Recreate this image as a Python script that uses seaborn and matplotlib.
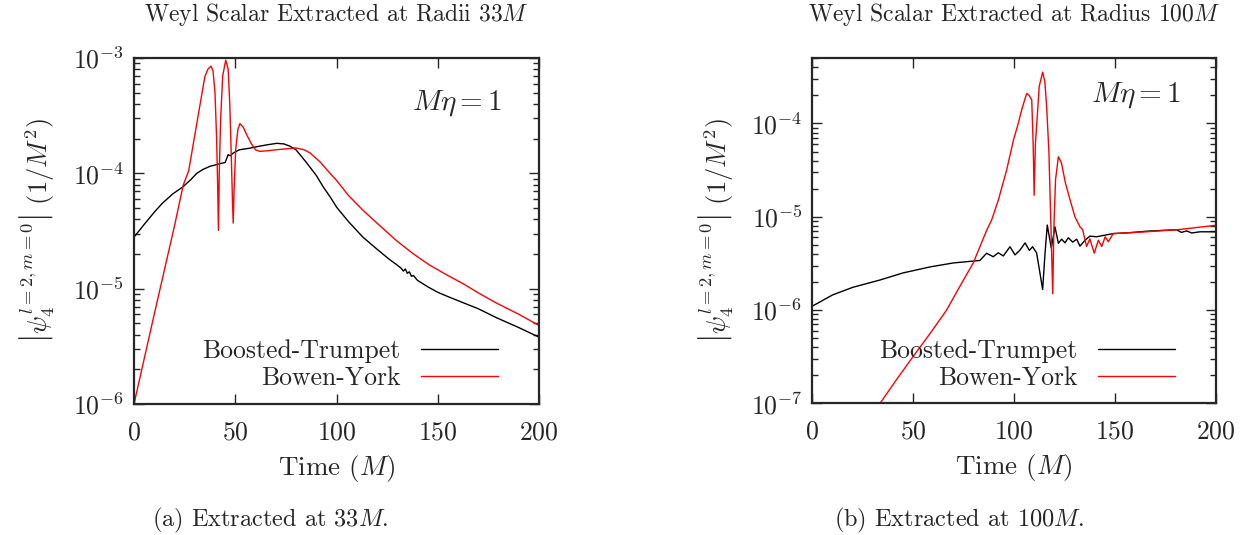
import numpy as np
import pandas as pd
import matplotlib
matplotlib.use("Agg")
import matplotlib.pyplot as plt
import matplotlib.ticker as mticker
import seaborn as sns

# ---------------- data ----------------
left_bt_t = [0, 5, 10, 14, 19, 24, 28, 31, 34, 37.5, 40, 43, 45, 46.5, 47.5, 49, 52, 57, 62, 66,
             70.5, 74, 77, 80, 85, 90, 93.5, 97, 100, 106, 113, 120, 126, 130, 132, 133, 134,
             135, 136, 137, 138, 140, 145, 150, 156, 163, 170, 179, 190, 200]
left_bt_v = [2.8e-5, 3.6e-5, 4.6e-5, 5.5e-5, 6.6e-5, 7.6e-5, 8.8e-5, 1.0e-4, 1.08e-4, 1.15e-4,
             1.18e-4, 1.22e-4, 1.24e-4, 1.45e-4, 1.42e-4, 1.5e-4, 1.6e-4, 1.65e-4, 1.72e-4, 1.77e-4,
             1.82e-4, 1.8e-4, 1.72e-4, 1.6e-4, 1.25e-4, 9.6e-5, 7.6e-5, 6.2e-5, 5.1e-5, 3.8e-5,
             2.8e-5, 2.2e-5, 1.8e-5, 1.6e-5, 1.5e-5, 1.42e-5, 1.48e-5, 1.36e-5, 1.4e-5, 1.28e-5,
             1.3e-5, 1.18e-5, 1.04e-5, 9.3e-6, 8.4e-6, 7.5e-6, 6.7e-6, 5.6e-6, 4.6e-6, 3.8e-6]

left_by_t = [0, 10, 20, 24.3, 27, 31, 35, 36.5, 38, 39, 40, 40.8, 41.3, 41.7, 42.1, 42.8, 43.8,
             45.3, 46.5, 47.3, 48, 48.6, 49, 49.4, 50.2, 51.3, 52.3, 54, 56, 58, 60, 62, 66, 70,
             75, 80, 84, 87, 92, 96.8, 100, 106, 113, 120, 129.7, 138, 146, 155, 162.7, 170, 179,
             190, 200]
left_by_v = [1.0e-6, 6.0e-6, 3.5e-5, 7.9e-5, 1.05e-4, 2.7e-4, 6.9e-4, 8.0e-4, 8.5e-4, 7.8e-4,
             5.0e-4, 2.0e-4, 8.0e-5, 3.2e-5, 1.0e-4, 3.0e-4, 7.0e-4, 9.6e-4, 8.0e-4, 4.0e-4,
             1.5e-4, 6.0e-5, 3.7e-5, 7.0e-5, 1.6e-4, 2.4e-4, 2.7e-4, 2.5e-4, 2.1e-4, 1.8e-4,
             1.6e-4, 1.55e-4, 1.57e-4, 1.6e-4, 1.63e-4, 1.66e-4, 1.6e-4, 1.5e-4, 1.25e-4, 1.0e-4,
             8.7e-5, 6.4e-5, 4.8e-5, 3.7e-5, 2.6e-5, 2.0e-5, 1.6e-5, 1.3e-5, 1.1e-5, 9.2e-6,
             7.5e-6, 6.0e-6, 4.8e-6]

right_bt_t = [0, 10, 20, 33.6, 45, 58.4, 70, 83.1, 86.4, 89.7, 92.2, 94.7, 98, 100.5, 103, 105.5,
              107.6, 109.2, 111.2, 112.9, 114.2, 115.4, 116.5, 117.5, 118.5, 120.3, 122, 123.6,
              125.3, 126.9, 129.1, 131.1, 132.7, 135.2, 137.6, 140.9, 144.2, 149.2, 157.4, 165.7,
              174, 180.6, 183, 185.6, 188.1, 192.2, 200]
right_bt_v = [1.1e-6, 1.45e-6, 1.75e-6, 2.1e-6, 2.5e-6, 2.9e-6, 3.2e-6, 3.4e-6, 4.06e-6, 3.73e-6,
              4.11e-6, 3.8e-6, 4.77e-6, 3.9e-6, 4.4e-6, 5.25e-6, 4.36e-6, 4.77e-6, 4.1e-6, 2.47e-6,
              1.66e-6, 4.1e-6, 8.15e-6, 6.1e-6, 4.6e-6, 7.8e-6, 5.2e-6, 5.75e-6, 5.25e-6, 5.96e-6,
              5.35e-6, 5.75e-6, 4.84e-6, 5.6e-6, 6.2e-6, 6.1e-6, 6.3e-6, 6.6e-6, 6.75e-6, 7.0e-6,
              7.15e-6, 7.25e-6, 6.8e-6, 7.05e-6, 6.7e-6, 6.9e-6, 6.9e-6]

right_by_t = [30, 33.6, 41.8, 50.1, 58.4, 66.6, 73.2, 79.8, 86.5, 88.9, 92.2, 96.4, 99.7, 102.1,
              104, 106.3, 107.5, 108.8, 109.5, 110, 110.6, 111.3, 112.5, 114.2, 115.3, 116.2,
              117.3, 118.3, 119.2, 119.8, 120.6, 122, 123.5, 125.5, 127.5, 130.2, 132.7, 134,
              136, 137.6, 139.8, 141.8, 143.5, 145.2, 146.8, 149.2, 165.7, 182, 200]
right_by_v = [7.8e-8, 1.0e-7, 1.8e-7, 3.2e-7, 5.6e-7, 1.0e-6, 1.8e-6, 3.2e-6, 7.2e-6, 9.2e-6,
              1.5e-5, 3.2e-5, 6.6e-5, 1.0e-4, 1.45e-4, 2.1e-4, 2.0e-4, 1.78e-4, 6.0e-5, 1.7e-5,
              6.0e-5, 1.0e-4, 2.5e-4, 3.55e-4, 2.8e-4, 1.5e-4, 5.0e-5, 8.0e-6, 1.5e-6, 8.0e-6,
              2.5e-5, 4.4e-5, 3.8e-5, 2.3e-5, 1.6e-5, 1.0e-5, 7.8e-6, 7.3e-6, 4.8e-6, 5.8e-6,
              4.07e-6, 5.6e-6, 4.8e-6, 6.1e-6, 5.4e-6, 6.6e-6, 6.9e-6, 7.3e-6, 8.1e-6]

series_names = ["Boosted-Trumpet", "Bowen-York"]
titles = [r"Weyl Scalar Extracted at Radii $33M$", r"Weyl Scalar Extracted at Radius $100M$"]
captions = [r"(a) Extracted at $33M$.", r"(b) Extracted at $100M$."]
x_ticks = [0, 50, 100, 150, 200]

# ---------------- style ----------------
sns.set_style("ticks")
plt.rcParams["font.family"] = ["cmr10", "DejaVu Serif"]
plt.rcParams["mathtext.fontset"] = "cm"
plt.rcParams["axes.formatter.use_mathtext"] = True
plt.rcParams["axes.unicode_minus"] = False

def make_df(bt_t, bt_v, by_t, by_v):
    return pd.concat([
        pd.DataFrame({"t": bt_t, "v": bt_v, "series": series_names[0]}),
        pd.DataFrame({"t": by_t, "v": by_v, "series": series_names[1]}),
    ], ignore_index=True)

dfs = [make_df(left_bt_t, left_bt_v, left_by_t, left_by_v),
       make_df(right_bt_t, right_bt_v, right_by_t, right_by_v)]
ylims = [(1e-6, 1e-3), (1e-7, 5e-4)]

fig = plt.figure(figsize=(12.56, 5.35), dpi=100)
W, H = 1256, 535
boxes = [(134, 58, 539, 404), (812.3, 58.3, 1215.7, 403.3)]
palette = {series_names[0]: "black", series_names[1]: "red"}
eta_pos = [(0.909, 0.87), (0.913, 0.893)]
ylabel_x = [-0.19, -0.189]

for i, (df, box) in enumerate(zip(dfs, boxes)):
    x0, y0, x1, y1 = box
    ax = fig.add_axes([x0 / W, 1 - y1 / H, (x1 - x0) / W, (y1 - y0) / H])
    sns.lineplot(data=df, x="t", y="v", hue="series", palette=palette, estimator=None,
                 sort=False, linewidth=1.0, ax=ax, legend=True)
    ax.set_yscale("log")
    ax.set_xlim(0, 200)
    ax.set_ylim(*ylims[i])
    ax.set_xticks(x_ticks)
    ax.yaxis.set_major_locator(mticker.LogLocator(base=10, numticks=10))
    ax.yaxis.set_minor_locator(mticker.LogLocator(base=10, subs=np.arange(2, 10), numticks=20))
    ax.yaxis.set_minor_formatter(mticker.NullFormatter())
    ax.tick_params(which="both", direction="in", top=True, right=True, labelsize=18.5)
    ax.tick_params(which="major", length=7, width=1.0)
    ax.tick_params(which="minor", length=4, width=1.0)
    ax.tick_params(axis="x", pad=12)
    ax.tick_params(axis="y", pad=7)
    for sp in ax.spines.values():
        sp.set_linewidth(1.6)
    ax.set_xlabel(r"Time ($M$)", fontsize=19.5, labelpad=6)
    ax.set_ylabel(r"$\left|\psi_4^{l{=}2,m{=}0}\right|\ (1/M^2)$", fontsize=19)
    ax.yaxis.set_label_coords(ylabel_x[i], 0.5)
    ax.set_title(titles[i], fontsize=17, pad=27)
    ax.text(eta_pos[i][0], eta_pos[i][1], r"$M\eta=1$", transform=ax.transAxes, fontsize=21,
            ha="right", va="center")
    handles, labels = ax.get_legend_handles_labels()
    ax.legend(handles, labels, loc="lower right", frameon=False, markerfirst=False,
              fontsize=18.5, handlelength=3.0, handletextpad=0.8, labelspacing=0.12,
              borderaxespad=0, bbox_to_anchor=(0.925, 0.01))

fig.text(270 / W, 1 - 520 / H, captions[0], ha="center", va="center", fontsize=17.5)
fig.text(959 / W, 1 - 520 / H, captions[1], ha="center", va="center", fontsize=17.5)

fig.savefig("out.png", dpi=100)
